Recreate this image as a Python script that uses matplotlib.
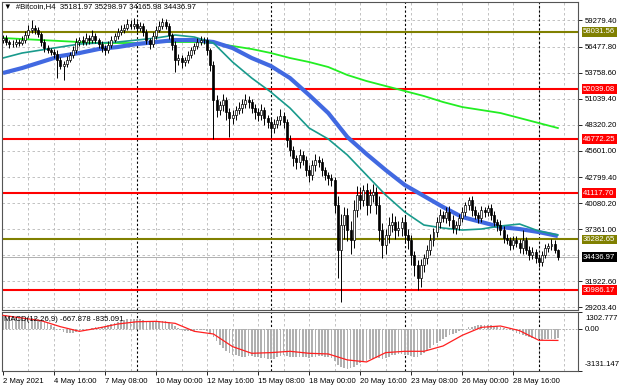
import numpy as np
import matplotlib.pyplot as plt
from matplotlib.transforms import blended_transform_factory

plt.rcParams['font.family'] = ['Liberation Sans', 'DejaVu Sans']

# H4 candles, 2 May 2021 00:00 .. 31 May 2021 00:00
close = [
    57393, 56974, 56764, 56764, 56974, 56869, 57183, 57707, 58231, 58441,
    58231, 57812, 56974, 56345, 56135, 55925, 55716, 55087, 54458, 54668,
    55087, 55611, 56135, 56974, 57183, 56974, 57393, 57183, 57602, 57183,
    56764, 56345, 56135, 56659, 57183, 57602, 58022, 58231, 58441, 58860,
    58650, 58860, 58441, 58650, 58022, 57183, 56764, 57602, 58231, 58650,
    59069, 58650, 57707, 56659, 55087, 55297, 54878, 55087, 55611, 56135,
    56554, 56974, 57183, 57183, 56135, 54563, 50895, 49847, 50371, 50895,
    49637, 49009, 49323, 49847, 50057, 50476, 50895, 50686, 50057, 49637,
    49323, 49847, 49009, 48589, 47961, 48380, 48799, 49218, 48589, 46703,
    45655, 44817, 44397, 45131, 44607, 43559, 43035, 44083, 44607, 44397,
    43559, 43035, 42721, 42511, 39891, 35175, 37795, 38843, 37271, 36223,
    39367, 40939, 40415, 41463, 39891, 40939, 41253, 39891, 37271, 35699,
    36747, 37795, 38109, 37271, 37481, 38109, 36747, 36223, 34651, 33603,
    32241, 33603, 34332, 35175, 36223, 37061, 38109, 38843, 38529, 39157,
    38319, 37481, 37795, 38529, 39157, 39891, 40415, 39367, 38843, 38529,
    39367, 39157, 39577, 38843, 38109, 37795, 37271, 36433, 36223, 35699,
    36223, 35909, 35385, 36223, 35175, 34651, 34965, 34332, 33918, 34651,
    35385, 35595, 35804, 35182, 34437,
]
first_open = 57200

upper_wick = [
    350, 300, 250, 400, 300, 350, 400, 450, 500, 800, 350, 300, 250, 300, 350, 250, 300, 400, 300, 350, 400, 350, 450, 400, 350,
    400, 500, 350, 600, 300, 250, 300, 350, 400, 450, 350, 400, 500, 450, 550, 400, 630, 350, 400, 300, 350, 250, 400, 450, 500,
    420, 350, 300, 250, 400, 450, 300, 350, 400, 350, 300, 450, 400, 350, 300, 250, 400, 500, 450, 600, 350, 400, 500, 450, 600,
    500, 650, 400, 350, 450, 400, 600, 350, 300, 400, 500, 450, 700, 400, 300, 500, 400, 350, 600, 450, 400, 500, 550, 600, 450,
    400, 350, 300, 400, 350, 900, 1200, 800, 700, 900, 1100, 900, 800, 500, 700, 600, 800, 500, 900, 700, 600, 800, 900, 600, 700,
    500, 700, 600, 500, 400, 500, 600, 400, 500, 600, 400, 500, 600, 450, 500, 600, 500, 400, 450, 500, 350, 315, 450, 400, 350,
    400, 350, 315, 450, 400, 350, 500, 400, 450, 350, 400, 450, 400, 1050, 350, 400, 500, 300, 350, 400, 450, 350, 500, 400, 117,
]
lower_wick = [
    300, 350, 400, 300, 350, 300, 250, 300, 350, 300, 400, 350, 400, 450, 350, 300, 400, 1900, 300, 1470, 300, 250, 350, 300, 400,
    300, 350, 400, 300, 350, 400, 450, 500, 350, 300, 250, 300, 350, 300, 250, 350, 300, 400, 350, 450, 400, 500, 350, 300, 250,
    300, 350, 400, 500, 1250, 500, 600, 400, 350, 300, 400, 350, 300, 400, 500, 600, 4100, 700, 500, 600, 800, 1990, 600, 500, 400,
    500, 400, 600, 500, 700, 600, 500, 700, 600, 1060, 500, 400, 500, 600, 700, 600, 800, 700, 600, 500, 600, 700, 500, 600, 500,
    600, 500, 700, 600, 800, 2935, 5450, 1500, 1200, 1500, 800, 700, 900, 600, 1000, 800, 700, 900, 1200, 1400, 900, 800, 700, 900, 600,
    800, 700, 900, 1000, 1100, 1260, 900, 700, 600, 500, 600, 500, 600, 400, 500, 600, 500, 600, 500, 400, 450, 500, 600, 400, 500,
    450, 500, 400, 500, 450, 600, 500, 550, 400, 500, 450, 400, 500, 600, 450, 500, 400, 550, 520, 400, 350, 450, 400, 350, 271,
]

# moving averages, read once per day (every 6 bars)
ma_bars = list(range(0, 175, 6))
ma_blue = [53725, 54249, 54878, 55507, 55821, 56240, 56450, 56764, 56974, 57183,
           57183, 56974, 56345, 55297, 54458, 53201, 51419, 49533, 47017, 45236,
           43559, 41987, 40835, 39682, 38634, 38110, 37585, 37376, 37061, 36642]
ma_teal = [55297, 55821, 56135, 56450, 56764, 56869, 56974, 57183, 57393, 57707,
           57498, 56869, 54878, 53201, 51733, 50057, 47961, 46808, 45131, 43035,
           40939, 39157, 37795, 37481, 37271, 37376, 37690, 37900, 37166, 36747]
ma_lime = [57393, 57288, 57183, 57078, 56974, 56869, 56869, 56869, 56974, 56974,
           56974, 56869, 56554, 56240, 55821, 55297, 54878, 54354, 53515, 52886,
           52362, 51838, 51314, 50686, 50161, 49847, 49533, 49009, 48485, 47961]

red_levels = [52039.08, 46772.25, 41117.70, 30986.17]
olive_levels = [58031.56, 36282.65]
last_price = 34436.97

price_ticks = [59279.40, 56477.80, 53758.60, 51039.40, 48320.20, 45601.00,
               42799.40, 40080.20, 37361.00, 31922.60, 29203.40]
grid_prices = price_ticks + [34641.80]

macd_hist = [
    1100, 1050, 1000, 950, 900, 880, 860, 880, 900, 880, 820, 760,
    680, 560, 450, 330, 200, 50, -80, -180, -250, -280, -260, -220,
    -150, -80, 0, 60, 120, 160, 170, 150, 200, 300, 400, 480,
    560, 640, 700, 760, 780, 790, 780, 760, 700, 620, 560, 540,
    560, 600, 640, 620, 540, 420, 250, 100, -20, -120, -160, -140,
    -100, -60, -40, -50, -100, -250, -600, -900, -1150, -1400, -1600, -1800,
    -1900, -1950, -2000, -2050, -2050, -2000, -2000, -2050, -2100, -2150, -2150, -2200,
    -2250, -2200, -2100, -2000, -1950, -2000, -2050, -2100, -2100, -2050, -2050, -2100,
    -2150, -2100, -2050, -2000, -2000, -2050, -2100, -2150, -2350, -2700, -2850, -2900,
    -2950, -2900, -2800, -2650, -2550, -2450, -2350, -2250, -2200, -2150, -2150, -2200,
    -2150, -2050, -1950, -1900, -1850, -1850, -1900, -1950, -2000, -2050, -2050, -1950,
    -1800, -1600, -1400, -1200, -1000, -850, -700, -560, -450, -350, -250, -150,
    -50, 50, 150, 200, 260, 290, 310, 320, 320, 300, 280, 240,
    180, 120, 40, -60, -160, -260, -350, -420, -500, -580, -660, -720,
    -760, -780, -760, -730, -700, -690, -668,
]
macd_signal = [1050, 850, 650, 200, -150, 100, 400, 570, 600, 450,
               -150, -350, -1300, -1800, -1750, -1650, -1800, -1850, -2300, -2450,
               -1750, -1650, -1650, -1250, -450, 150, 250, -100, -820, -835]
macd_max, macd_min = 1302.777, -3131.147

date_labels = ['2 May 2021', '4 May 16:00', '7 May 08:00', '10 May 00:00', '12 May 16:00',
               '15 May 08:00', '18 May 00:00', '20 May 16:00', '23 May 08:00',
               '26 May 00:00', '28 May 16:00']
label_bars = list(range(0, 161, 16))
week_bars = [42, 84, 126, 168]

c = np.array(close, dtype=float)
o = np.r_[first_open, c[:-1]]
hi = np.maximum(o, c) + np.array(upper_wick)
lo = np.minimum(o, c) - np.array(lower_wick)
x = np.arange(len(c))

fig = plt.figure(figsize=(6.2, 3.88), dpi=100)
ax = fig.add_axes([0.0032, 0.2010, 0.929, 0.7938])
axm = fig.add_axes([0.0032, 0.0438, 0.929, 0.1521], sharex=ax)

grid_kw = dict(color='#b8b8b8', lw=0.6, ls=(0, (3, 3)), zorder=0)
for a in (ax, axm):
    for b in range(8, 181, 8):
        a.axvline(b, **grid_kw)
    for b in week_bars:
        a.axvline(b, color='black', lw=0.8, ls=(0, (2, 2)), zorder=1)
    for s in a.spines.values():
        s.set_color('#555555')
        s.set_linewidth(0.8)
for p in grid_prices:
    ax.axhline(p, **grid_kw)

ax.axhline(last_price, color='#b0b0b0', lw=0.7, zorder=1)
for p in red_levels:
    ax.axhline(p, color='#ff0000', lw=1.5, zorder=1)
for p in olive_levels:
    ax.axhline(p, color='#808000', lw=1.5, zorder=1)

ax.plot(ma_bars, ma_lime, color='#22ee22', lw=1.3, zorder=2)
ax.plot(ma_bars, ma_blue, color='#4169e1', lw=3.0, zorder=2, solid_capstyle='butt')
ax.plot(ma_bars, ma_teal, color='#199a8c', lw=1.2, zorder=2)

ax.vlines(x, lo, hi, color='black', lw=0.7, zorder=3)
body = np.maximum(np.abs(c - o), 40)
ax.bar(x, body, bottom=np.minimum(o, c), width=0.62,
       color=np.where(c >= o, 'white', 'black'), edgecolor='black', linewidth=0.5, zorder=4)

ax.set_xlim(-0.3, 180.3)
ax.set_ylim(28889, 61166)
ax.yaxis.tick_right()
ax.set_yticks(price_ticks)
ax.set_yticklabels([f'{p:.2f}' for p in price_ticks])
ax.tick_params(axis='y', length=3, width=0.6, pad=2, labelsize=5.6, colors='black')
ax.tick_params(axis='x', bottom=False, labelbottom=False)

tr = blended_transform_factory(ax.transAxes, ax.transData)
tags = [(p, '#ff0000') for p in red_levels] + [(p, '#808000') for p in olive_levels] + [(last_price, 'black')]
for p, col in tags:
    ax.text(1.009, p, f'{p:.2f}', transform=tr, color='white', fontsize=5.6, va='center', ha='left',
            bbox=dict(boxstyle='square,pad=0.18', fc=col, ec='none'), clip_on=False, zorder=6)

ax.text(0.004, 0.984, '▼  #Bitcoin,H4  35181.97 35298.97 34165.98 34436.97',
        transform=ax.transAxes, fontsize=5.6, va='center', ha='left')

axm.bar(x, macd_hist, width=0.55, color='#b0b0b0', zorder=2)
axm.plot(ma_bars, macd_signal, color='#ff2020', lw=0.9, zorder=3)
axm.axhline(0, color='#a0a0a0', lw=0.6, ls=(0, (2, 2)), zorder=1)
axm.set_ylim(macd_min, macd_max)
axm.yaxis.tick_right()
axm.set_yticks([macd_max, 0, macd_min])
axm.set_yticklabels(['', '', ''])
axm.tick_params(axis='y', length=3, width=0.6, pad=2)
trm = blended_transform_factory(axm.transAxes, axm.transData)
axm.text(1.012, macd_max - 250, '1302.777', transform=trm, fontsize=5.6, va='top', ha='left', clip_on=False)
axm.text(1.012, 0, '0.00', transform=trm, fontsize=5.6, va='center', ha='left', clip_on=False)
axm.text(1.012, macd_min + 200, '-3131.147', transform=trm, fontsize=5.6, va='bottom', ha='left', clip_on=False)
axm.text(0.004, 0.88, 'MACD(12,26,9) -667.878 -835.091', transform=axm.transAxes,
         fontsize=5.6, va='center', ha='left', zorder=5)

axm.set_xticks(label_bars)
axm.set_xticklabels(date_labels, ha='left')
axm.tick_params(axis='x', length=3, width=0.6, pad=2, labelsize=5.6)

fig.savefig('out.png', dpi=100)
